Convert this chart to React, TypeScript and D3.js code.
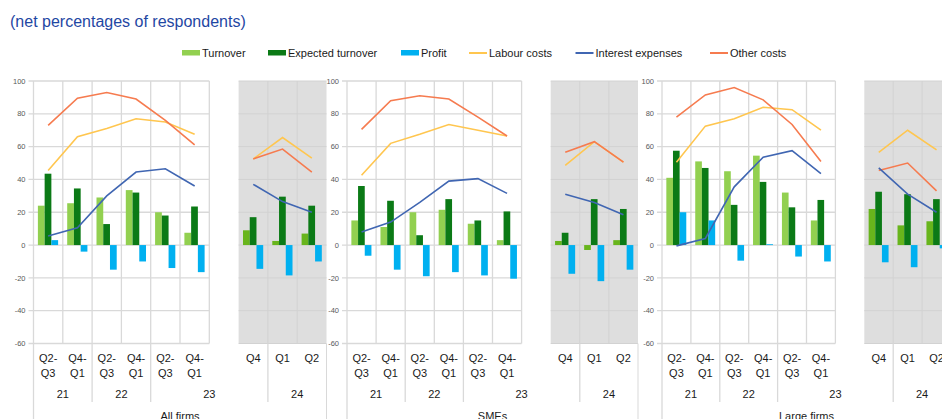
import React from "react";
import * as d3 from "d3";

// ---------- data ----------
const categories = ["Q2-Q3", "Q4-Q1", "Q2-Q3", "Q4-Q1", "Q2-Q3", "Q4-Q1", "", "Q4", "Q1", "Q2"];
const yearLabels = ["21", "22", "23", "24"];
const yearStarts = [0, 2, 4, 8];
const yearEnds = [2, 4, 8, 10];
const panelNames = ["All firms", "SMEs", "Large firms"];
const yTicks = [100, 80, 60, 40, 20, 0, -20, -40, -60];

const seriesNames = ["Turnover", "Expected turnover", "Profit", "Labour costs", "Interest expenses", "Other costs"];

// All firms
const allTurnover = [24, 25.5, 29, 33.5, 20, 7.5, null, 9, 2.5, 7];
const allExpected = [43.5, 34.5, 12.8, 32, 18, 23.5, null, 17, 29.5, 24];
const allProfit = [3, -4, -15, -10, -14, -16.5, null, -14.5, -18.5, -10];
const allLabour = [45.5, 66, 71, 77, 75, 67.5, null, 52.5, 65.5, 53];
const allInterest = [5.5, 10.5, 30, 44.5, 46.5, 36, null, 37, 26.5, 20];
const allOther = [73, 89.5, 93, 89, 76, 61, null, 52.5, 58.5, 44.5];

// SMEs
const smeTurnover = [15, 11, 20, 21.5, 13, 3, null, 2.5, -3, 3];
const smeExpected = [36, 27, 6, 28, 15, 20.5, null, 7.5, 28, 22];
const smeProfit = [-6.5, -15, -19, -16.5, -18.5, -20.5, null, -17.5, -22, -15];
const smeLabour = [42.5, 62, 67.5, 73.5, 70, 66.5, null, 48.5, 63, 50.5];
const smeInterest = [8, 14, 26, 39, 40.5, 31.5, null, 31, 26, 18.5];
const smeOther = [70.5, 88, 91, 89, 78, 66.5, null, 56.5, 63, 50.5];

// Large firms
const largeTurnover = [41, 51, 45, 54.5, 32, 15, null, 22, 12, 14.5];
const largeExpected = [57.5, 47, 24.5, 38.5, 23, 27.5, null, 32.5, 31, 28];
const largeProfit = [20, 15, -9.5, 0.5, -7, -10, null, -10.5, -13.5, -2];
const largeLabour = [50.5, 72.5, 77, 84, 82.5, 70, null, 56.5, 70, 58];
const largeInterest = [-0.5, 4, 35.5, 53.5, 57.5, 43.5, null, 47, 31, 20];
const largeOther = [78, 91.5, 96, 88.5, 73.5, 51, null, 45.5, 50, 33];

const panels = [
  { name: panelNames[0], turnover: allTurnover, expected: allExpected, profit: allProfit, labour: allLabour, interest: allInterest, other: allOther },
  { name: panelNames[1], turnover: smeTurnover, expected: smeExpected, profit: smeProfit, labour: smeLabour, interest: smeInterest, other: smeOther },
  { name: panelNames[2], turnover: largeTurnover, expected: largeExpected, profit: largeProfit, labour: largeLabour, interest: largeInterest, other: largeOther },
];

// ---------- styles / layout ----------
const W = 942;
const H = 419;
const panelLeft = [33.5, 347, 662];
const panelRight = [326.5, 638, 951];
const plotTop = 81;
const plotBottom = 343.5;
const FONT = "'Liberation Sans', Arial, sans-serif";

const C_TURN = "#92d050";
const C_TURN_DARK = "#68b51c";
const C_EXP = "#0b7a16";
const C_PROF = "#00b0f0";
const C_LAB = "#ffc64f";
const C_INT = "#4066b2";
const C_OTH = "#f67b4f";
const GRID = "#d9d9d9";

const y = d3.scaleLinear().domain([-60, 100]).range([plotBottom, plotTop]);

function Panel({ p, i }: { p: any; i: number }) {
  const x = d3
    .scaleBand<number>()
    .domain(d3.range(categories.length))
    .range([panelLeft[i], panelRight[i]])
    .padding(0);
  const cw = x.bandwidth();
  const bw = cw * 0.23;
  const off = cw * 0.15;
  const bx = (k: number) => (x(k) as number);
  const whiteL = bx(0);
  const whiteR = bx(6);
  const greyL = bx(7);
  const greyR = panelRight[i];

  const lineGen = d3
    .line<any>()
    .defined((d: any) => d.v != null)
    .x((d: any) => bx(d.k) + cw / 2)
    .y((d: any) => y(d.v));

  const segs = (arr: (number | null)[]) => {
    const a = arr.map((v, k) => ({ k, v }));
    return [a.slice(0, 6), a.slice(7)];
  };

  const bars = [
    { vals: p.turnover, idx: 0 },
    { vals: p.expected, idx: 1 },
    { vals: p.profit, idx: 2 },
  ];

  return (
    <g>
      {/* backgrounds */}
      <rect x={whiteL} y={plotTop} width={whiteR - whiteL} height={plotBottom - plotTop} fill="#ffffff" />
      <rect x={greyL} y={plotTop} width={greyR - greyL} height={plotBottom - plotTop} fill="#dedede" />
      {/* horizontal grid */}
      {yTicks.map((t) => (
        <g key={"h" + t}>
          <line x1={whiteL - 5} x2={whiteR} y1={y(t)} y2={y(t)} stroke={GRID} strokeWidth={1.3} />
          <line x1={greyL} x2={greyR} y1={y(t)} y2={y(t)} stroke="#d2d2d2" strokeWidth={1} />
          <text x={whiteL - 8} y={y(t)} dy="0.35em" textAnchor="end" fontSize={7.5} fill="#595959" fontFamily={FONT}>
            {t}
          </text>
        </g>
      ))}
      {/* vertical grid */}
      {d3.range(0, 7).map((k) => (
        <line key={"vw" + k} x1={bx(k)} x2={bx(k)} y1={plotTop} y2={plotBottom} stroke={GRID} strokeWidth={1.3} />
      ))}
      {d3.range(8, 10).map((k) => (
        <line key={"vg" + k} x1={bx(k)} x2={bx(k)} y1={plotTop} y2={plotBottom} stroke="#d2d2d2" strokeWidth={1} />
      ))}
      {/* bars */}
      {bars.map((s) =>
        (s.vals as (number | null)[]).map((v, k) => {
          if (v == null) return null;
          let fill = s.idx === 0 ? (k >= 7 ? C_TURN_DARK : C_TURN) : s.idx === 1 ? C_EXP : C_PROF;
          const x0 = bx(k) + off + s.idx * bw;
          const y0 = Math.min(y(v), y(0));
          const h = Math.abs(y(v) - y(0));
          return <rect key={s.idx + "-" + k} x={x0} y={y0} width={bw} height={h} fill={fill} />;
        })
      )}
      {/* lines */}
      {[
        { vals: p.labour, c: C_LAB },
        { vals: p.other, c: C_OTH },
        { vals: p.interest, c: C_INT },
      ].map((s, si) =>
        segs(s.vals).map((seg, j) => (
          <path key={si + "-" + j} d={lineGen(seg) || ""} fill="none" stroke={s.c} strokeWidth={1.6} />
        ))
      )}
      {/* axis separators below plot */}
      <line x1={whiteL} x2={whiteL} y1={plotBottom} y2={H} stroke={GRID} strokeWidth={1.3} />
      <line x1={greyR} x2={greyR} y1={plotBottom} y2={H} stroke={GRID} strokeWidth={1} />
      {yearStarts.slice(1).map((s) => (
        <line key={"ys" + s} x1={bx(s)} x2={bx(s)} y1={plotBottom} y2={402} stroke={GRID} strokeWidth={1.3} />
      ))}
      {/* category labels */}
      {categories.map((c, k) => {
        if (!c) return null;
        const cx = bx(k) + cw / 2;
        const parts = c.includes("-") ? [c.split("-")[0] + "-", c.split("-")[1]] : [c];
        return (
          <text key={"c" + k} x={cx} textAnchor="middle" fontSize={11} fill="#1a1a1a" fontFamily={FONT}>
            {parts.map((pt, j) => (
              <tspan key={j} x={cx} y={361.5 + j * 15}>
                {pt}
              </tspan>
            ))}
          </text>
        );
      })}
      {/* year labels */}
      {yearLabels.map((yl, j) => (
        <text
          key={"y" + yl}
          x={(bx(yearStarts[j]) + (yearEnds[j] < 10 ? bx(yearEnds[j]) : panelRight[i])) / 2}
          y={398}
          textAnchor="middle"
          fontSize={11}
          fill="#1a1a1a"
          fontFamily={FONT}
        >
          {yl}
        </text>
      ))}
      <text x={(panelLeft[i] + panelRight[i]) / 2} y={420} textAnchor="middle" fontSize={11} fill="#1a1a1a" fontFamily={FONT}>
        {p.name}
      </text>
    </g>
  );
}

function Legend() {
  const items = [
    { name: seriesNames[0], type: "rect", c: C_TURN, x: 182 },
    { name: seriesNames[1], type: "rect", c: C_EXP, x: 268 },
    { name: seriesNames[2], type: "rect", c: C_PROF, x: 401 },
    { name: seriesNames[3], type: "line", c: C_LAB, x: 469 },
    { name: seriesNames[4], type: "line", c: C_INT, x: 575.5 },
    { name: seriesNames[5], type: "line", c: C_OTH, x: 710 },
  ];
  return (
    <g>
      {items.map((it) => (
        <g key={it.name}>
          {it.type === "rect" ? (
            <rect x={it.x} y={50} width={18} height={5.5} fill={it.c} />
          ) : (
            <line x1={it.x} x2={it.x + 18} y1={53} y2={53} stroke={it.c} strokeWidth={2} />
          )}
          <text x={it.x + 20} y={57} fontSize={11} fill="#1a1a1a" fontFamily={FONT}>
            {it.name}
          </text>
        </g>
      ))}
    </g>
  );
}

export default function App() {
  return (
    <div style={{ position: "fixed", left: 0, top: 0, width: W, height: H, overflow: "hidden", background: "#fff" }}>
      <svg width={W} height={H} style={{ display: "block" }}>
        <rect x={0} y={0} width={W} height={H} fill="#ffffff" />
        <text x={10} y={26.5} fontSize={16} fill="#1f47a3" fontFamily={FONT}>
          (net percentages of respondents)
        </text>
        <Legend />
        {panels.map((p, i) => (
          <Panel key={p.name} p={p} i={i} />
        ))}
      </svg>
    </div>
  );
}
